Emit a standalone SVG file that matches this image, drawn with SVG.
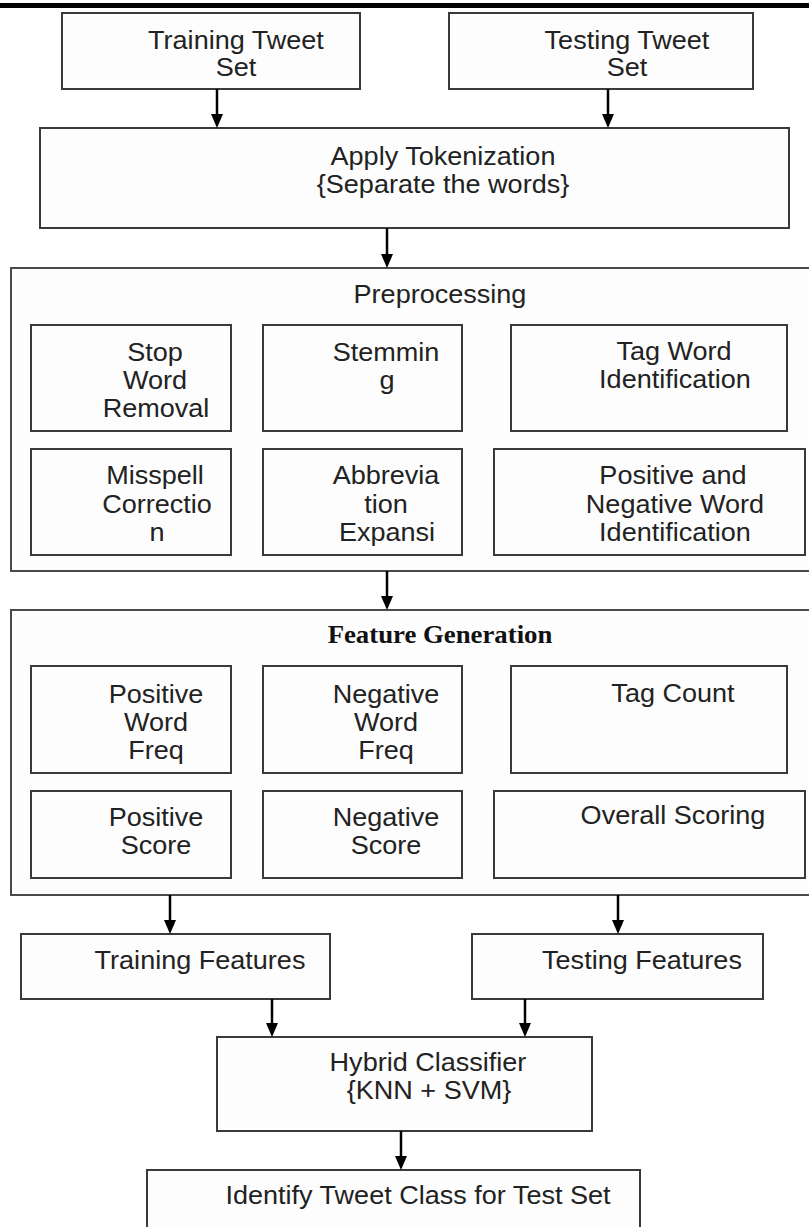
<svg xmlns="http://www.w3.org/2000/svg" width="809" height="1227" viewBox="0 0 809 1227">
<style>
.bx{fill:#fdfdfd;stroke:#3a3a3a;stroke-width:2}
.ob{fill:#fdfdfd;stroke:#4a4a4a;stroke-width:2}
.t{font-family:"Liberation Sans",Arial,sans-serif;font-size:26px;fill:#222;text-anchor:middle;transform-box:fill-box;transform-origin:center;transform:scaleX(1.04)}
.h{font-family:"Liberation Serif","Times New Roman",serif;font-size:26px;font-weight:bold;fill:#111;text-anchor:middle;transform-box:fill-box;transform-origin:center;transform:scaleX(1.03)}
.c{stroke:#000;stroke-width:2.5;fill:none;marker-end:url(#ah)}
</style>
<defs>
<marker id="ah" viewBox="0 0 14 12" refX="10" refY="6" markerWidth="14" markerHeight="12" markerUnits="userSpaceOnUse" orient="auto">
<path d="M0,0 L14,6 L0,12 Z" fill="#000"/>
</marker>
</defs>
<rect width="809" height="1227" fill="#fff"/>
<rect x="0" y="3" width="809" height="5" fill="#000"/>

<g id="training-tweet-set">
<rect class="bx" x="62" y="13" width="298" height="76"/>
<text class="t" x="236" y="49">Training Tweet</text>
<text class="t" x="236" y="76">Set</text>
</g>
<g id="testing-tweet-set">
<rect class="bx" x="449" y="13" width="304" height="76"/>
<text class="t" x="627" y="49">Testing Tweet</text>
<text class="t" x="627" y="76">Set</text>
</g>
<g id="apply-tokenization">
<rect class="bx" x="40" y="128" width="749" height="100"/>
<text class="t" x="443" y="165">Apply Tokenization</text>
<text class="t" x="443" y="193">{Separate the words}</text>
</g>

<g id="preprocessing">
<rect class="ob" x="11" y="268" width="810" height="303"/>
<text class="t" x="440" y="303">Preprocessing</text>
<g id="stop-word-removal">
<rect class="bx" x="31" y="325" width="200" height="106"/>
<text class="t" x="155" y="361">Stop</text>
<text class="t" x="155" y="389">Word</text>
<text class="t" x="156" y="417">Removal</text>
</g>
<g id="stemming">
<rect class="bx" x="263" y="325" width="199" height="106"/>
<text class="t" x="386" y="361">Stemmin</text>
<text class="t" x="387" y="389">g</text>
</g>
<g id="tag-word-identification">
<rect class="bx" x="511" y="325" width="276" height="106"/>
<text class="t" x="674" y="360">Tag Word</text>
<text class="t" x="675" y="388">Identification</text>
</g>
<g id="misspell-correction">
<rect class="bx" x="31" y="449" width="200" height="106"/>
<text class="t" x="155" y="484">Misspell</text>
<text class="t" x="157" y="513">Correctio</text>
<text class="t" x="157" y="541">n</text>
</g>
<g id="abbreviation-expansion">
<rect class="bx" x="263" y="449" width="199" height="106"/>
<text class="t" x="386" y="484">Abbrevia</text>
<text class="t" x="386" y="513">tion</text>
<text class="t" x="387" y="541">Expansi</text>
</g>
<g id="pos-neg-word-identification">
<rect class="bx" x="494" y="449" width="311" height="106"/>
<text class="t" x="673" y="484">Positive and</text>
<text class="t" x="675" y="513">Negative Word</text>
<text class="t" x="675" y="541">Identification</text>
</g>
</g>

<g id="feature-generation">
<rect class="ob" x="11" y="610" width="810" height="285"/>
<text class="h" x="440" y="643">Feature Generation</text>
<g id="positive-word-freq">
<rect class="bx" x="31" y="666" width="200" height="107"/>
<text class="t" x="156" y="703">Positive</text>
<text class="t" x="156" y="731">Word</text>
<text class="t" x="156" y="759">Freq</text>
</g>
<g id="negative-word-freq">
<rect class="bx" x="263" y="666" width="199" height="107"/>
<text class="t" x="386" y="703">Negative</text>
<text class="t" x="386" y="731">Word</text>
<text class="t" x="386" y="759">Freq</text>
</g>
<g id="tag-count">
<rect class="bx" x="511" y="666" width="276" height="107"/>
<text class="t" x="673" y="702">Tag Count</text>
</g>
<g id="positive-score">
<rect class="bx" x="31" y="791" width="200" height="87"/>
<text class="t" x="156" y="826">Positive</text>
<text class="t" x="156" y="854">Score</text>
</g>
<g id="negative-score">
<rect class="bx" x="263" y="791" width="199" height="87"/>
<text class="t" x="386" y="826">Negative</text>
<text class="t" x="386" y="854">Score</text>
</g>
<g id="overall-scoring">
<rect class="bx" x="494" y="791" width="311" height="87"/>
<text class="t" x="673" y="824">Overall Scoring</text>
</g>
</g>

<g id="training-features">
<rect class="bx" x="21" y="934" width="309" height="65"/>
<text class="t" x="200" y="969">Training Features</text>
</g>
<g id="testing-features">
<rect class="bx" x="472" y="934" width="291" height="65"/>
<text class="t" x="642" y="969">Testing Features</text>
</g>
<g id="hybrid-classifier">
<rect class="bx" x="217" y="1037" width="375" height="94"/>
<text class="t" x="428" y="1071">Hybrid Classifier</text>
<text class="t" x="429" y="1099">{KNN + SVM}</text>
</g>
<g id="identify-tweet-class">
<rect class="bx" x="147" y="1170" width="493" height="80"/>
<text class="t" x="418" y="1204">Identify Tweet Class for Test Set</text>
</g>

<g id="connectors">
<path class="c" d="M217,89 V124"/>
<path class="c" d="M608,89 V124"/>
<path class="c" d="M387,228 V264"/>
<path class="c" d="M387,571 V606"/>
<path class="c" d="M170,895 V930"/>
<path class="c" d="M618,895 V930"/>
<path class="c" d="M272,999 V1033"/>
<path class="c" d="M525,999 V1033"/>
<path class="c" d="M401,1131 V1166"/>
</g>
</svg>
